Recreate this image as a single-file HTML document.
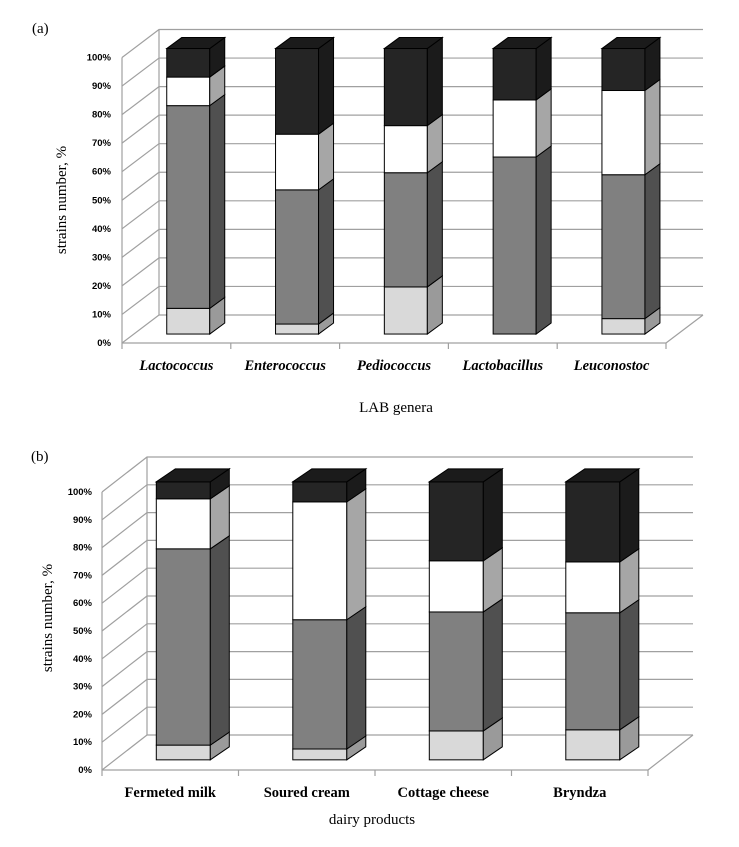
<!DOCTYPE html>
<html><head><meta charset="utf-8">
<style>
html,body{margin:0;padding:0;background:#fff;}
svg{display:block;}
.tick{font-family:"Liberation Sans",sans-serif;font-weight:bold;font-size:9.5px;fill:#000;}
.cat{font-family:"Liberation Serif",serif;font-weight:bold;font-size:14.5px;fill:#000;}
.ttl{font-family:"Liberation Serif",serif;font-size:15px;fill:#000;}
</style></head>
<body>
<svg id="chart" width="739" height="847" viewBox="0 0 739 847" xmlns="http://www.w3.org/2000/svg">
<text x="32" y="33" class="ttl">(a)</text>
<text x="31" y="461" class="ttl">(b)</text>
<text class="ttl" transform="translate(66,200) rotate(-90)" text-anchor="middle">strains number, %</text>
<text class="ttl" transform="translate(52,618) rotate(-90)" text-anchor="middle">strains number, %</text>
<text x="396" y="412" class="ttl" text-anchor="middle">LAB genera</text>
<text x="372" y="824" class="ttl" text-anchor="middle">dairy products</text>
<g id="ga"></g><g id="gb"></g>
</svg>
<script>
// Panel (a): LAB genera
const catsA = ["Lactococcus","Enterococcus","Pediococcus","Lactobacillus","Leuconostoc"];
const lightA = [9, 3.5, 16.5, 0, 5.4];
const midA   = [71, 47, 40, 62, 50.4];
const whiteA = [10, 19.5, 16.5, 20, 29.5];
const blackA = [10, 30, 27, 18, 14.7];
// Panel (b): dairy products
const catsB = ["Fermeted milk","Soured cream","Cottage cheese","Bryndza"];
const lightB = [5.3, 3.9, 10.4, 10.8];
const midB   = [70.6, 46.5, 42.8, 42.1];
const whiteB = [18, 42.4, 18.4, 18.3];
const blackB = [6.1, 7.2, 28.4, 28.8];
const yTicks = ["0%","10%","20%","30%","40%","50%","60%","70%","80%","90%","100%"];

const NS="http://www.w3.org/2000/svg";
function mk(parent,tag,attrs,name){
  const e=document.createElementNS(NS,tag);
  for(const k in attrs) e.setAttribute(k,attrs[k]);
  
  
  parent.appendChild(e);return e;
}
const fronts=["#d9d9d9","#808080","#ffffff","#252525"];
const sides=["#9a9a9a","#505050","#a6a6a6","#1b1b1b"];
const segNames=["light","mid","white","black"];

function draw(g,cfg,cats,series,italic){
  const {x0,y0,H,W,dx,dy,bw,bdx,bdy,frac,tickX,catY}=cfg;
  const n=cats.length, step=W/n;
  const yF=v=>y0-v/100*H;
  // back wall & left wall gridlines
  for(let i=0;i<=10;i++){
    const v=i*10, y=yF(v);
    mk(g,'polyline',{points:`${x0},${y} ${x0+dx},${y+dy} ${x0+W+dx},${y+dy}`,fill:'none',stroke:'#a0a0a0','stroke-width':1.2},'gridline');
    const t=mk(g,'text',{x:tickX,y:y+3,'text-anchor':'end',class:'tick'},'y-tick-label');
    t.textContent=yTicks[i];
  }
  mk(g,'line',{x1:x0,y1:y0,x2:x0,y2:yF(100),stroke:'#a0a0a0','stroke-width':1.2},'y-axis-line');
  mk(g,'line',{x1:x0+dx,y1:y0+dy,x2:x0+dx,y2:yF(100)+dy,stroke:'#a0a0a0','stroke-width':1.2},'back-wall-edge');
  // floor
  mk(g,'polyline',{points:`${x0},${y0} ${x0+W},${y0} ${x0+W+dx},${y0+dy}`,fill:'none',stroke:'#a0a0a0','stroke-width':1.2},'floor-edge');
  for(let i=0;i<=n;i++){
    const x=x0+i*step;
    mk(g,'line',{x1:x,y1:y0,x2:x,y2:y0+6,stroke:'#a0a0a0','stroke-width':1.2},'x-tick');
  }
  // bars
  const ox=dx*frac, oy=dy*frac, bh=H;
  const yb=v=>y0+oy-v/100*bh;
  for(let c=0;c<n;c++){
    const cx=x0+step*(c+0.5)+ox, xl=cx-bw/2, xr=cx+bw/2;
    let acc=0;
    for(let s=0;s<4;s++){
      const v=series[s][c]; if(v<=0) continue;
      const ya=yb(acc), yt=yb(acc+v);
      mk(g,'rect',{x:xl,y:yt,width:bw,height:ya-yt,fill:fronts[s],stroke:'#000','stroke-width':1},'bar-'+segNames[s]+'-'+c);
      mk(g,'polygon',{points:`${xr},${ya} ${xr+bdx},${ya+bdy} ${xr+bdx},${yt+bdy} ${xr},${yt}`,fill:sides[s],stroke:'#000','stroke-width':1},'bar-side-'+segNames[s]+'-'+c);
      acc+=v;
    }
    const yt=yb(acc);
    mk(g,'polygon',{points:`${xl},${yt} ${xl+bdx},${yt+bdy} ${xr+bdx},${yt+bdy} ${xr},${yt}`,fill:'#1b1b1b',stroke:'#000','stroke-width':1},'bar-top-'+c);
    const t=mk(g,'text',{x:x0+step*(c+0.5),y:catY,'text-anchor':'middle',class:'cat','font-style':italic?'italic':'normal'},'category-label');
    t.textContent=cats[c];
  }
}
draw(document.getElementById('ga'),
 {x0:122,y0:343,H:285.5,W:544,dx:37,dy:-28,bw:43,bdx:15,bdy:-11,frac:0.32,tickX:111,catY:370},
 catsA,[lightA,midA,whiteA,blackA],true);
draw(document.getElementById('gb'),
 {x0:102,y0:770,H:278,W:546,dx:45,dy:-35,bw:54,bdx:19,bdy:-13,frac:0.29,tickX:92,catY:797},
 catsB,[lightB,midB,whiteB,blackB],false);
</script>
</body></html>
